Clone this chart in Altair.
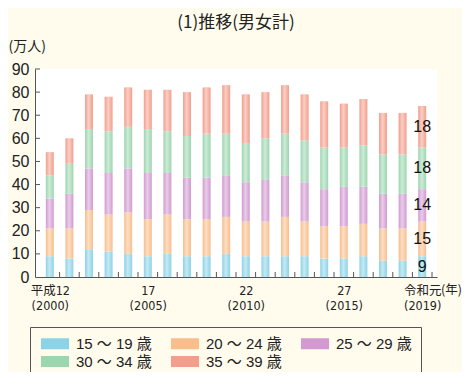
import altair as alt
import pandas as pd

years = list(range(2000, 2020))
groups = ["15 ～ 19 歳", "20 ～ 24 歳", "25 ～ 29 歳", "30 ～ 34 歳", "35 ～ 39 歳"]
a15 = [9, 8, 12, 11, 10, 9, 10, 9, 9, 10, 9, 9, 9, 9, 8, 8, 9, 7, 7, 9]
a20 = [12, 13, 17, 16, 18, 16, 17, 16, 16, 16, 15, 15, 17, 15, 14, 14, 14, 14, 14, 15]
a25 = [13, 15, 18, 18, 19, 20, 18, 18, 18, 18, 17, 18, 18, 17, 16, 17, 16, 15, 15, 14]
a30 = [10, 13, 17, 18, 18, 19, 18, 18, 19, 18, 17, 18, 18, 18, 18, 17, 18, 17, 17, 18]
a35 = [10, 11, 15, 15, 17, 17, 18, 19, 20, 21, 21, 20, 21, 20, 20, 19, 20, 18, 18, 18]
colors = ["#8CD3E6", "#F8BE8C", "#D29AD1", "#9CD6AF", "#F39E8C"]

xlab_years = [2000, 2005, 2010, 2015, 2019]
xlab_top = ["平成12", "17", "22", "27", "令和元"]
xlab_bot = ["(2000)", "(2005)", "(2010)", "(2015)", "(2019)"]
yticks = [0, 10, 20, 30, 40, 50, 60, 70, 80, 90]

series = [a15, a20, a25, a30, a35]
rows = []
totals = []
for i, y in enumerate(years):
    s = 0
    for g, vals in zip(groups, series):
        v = vals[i]
        rows.append({"year": y, "group": g, "order": groups.index(g), "start": s, "end": s + v,
                     "mid": s + v / 2, "value": v})
        s += v
    totals.append({"year": y, "zero": 0, "total": s})
df = pd.DataFrame(rows)
tot = pd.DataFrame(totals)
last = df[df["year"] == years[-1]]
xt = pd.DataFrame({"pos": [y + 0.5 for y in years]})
yt = pd.DataFrame({"v": yticks[1:]})

expr = "''"
for yv, t, b in reversed(list(zip(xlab_years, xlab_top, xlab_bot))):
    expr = f"datum.value == {yv} ? ['{t}', '{b}'] : ({expr})"

narrow = "Liberation Sans Narrow, DejaVu Sans Condensed, Noto Sans CJK JP"
sans = "Liberation Sans, Noto Sans CJK JP"
cjk = "Noto Sans CJK JP"

xscale = alt.Scale(domain=[1999.5, 2019.5], nice=False, zero=False)
yscale = alt.Scale(domain=[0, 90], nice=False)
xaxis = alt.Axis(values=xlab_years, labelExpr=expr, ticks=False, grid=False,
                 title=None, labelFont=narrow, labelFontSize=12.5, labelLineHeight=15,
                 labelPadding=7, labelColor="#222", domainColor="#555",
                 labelFlush=False, labelOverlap=False)
yaxis = alt.Axis(values=yticks, ticks=False, grid=False, title="(万人)",
                 titleAngle=0, titleAlign="left", titleBaseline="middle",
                 titleX=-27, titleY=-23, titleFont=cjk, titleFontSize=14,
                 titleFontWeight="normal", titleColor="#222",
                 labelFont=sans, labelFontSize=16, labelPadding=6,
                 labelOverlap=False, labelFlush=False,
                 labelColor="#222", domainColor="#555")

bars = alt.Chart(df).mark_bar(size=8).encode(
    x=alt.X("year:Q", scale=xscale, axis=xaxis),
    y=alt.Y("start:Q", scale=yscale, axis=yaxis),
    y2="end:Q",
    color=alt.Color("group:N", scale=alt.Scale(domain=groups, range=colors),
                    legend=alt.Legend(title=None, orient="none", legendX=-5, legendY=258,
                                      direction="horizontal", columns=3,
                                      symbolType="M-1,-1L4.1,-1L4.1,1L-1,1Z", symbolSize=121,
                                      symbolStrokeWidth=0, symbolOpacity=1,
                                      labelFont=sans, labelFontSize=15, labelColor="#222",
                                      labelOffset=22, columnPadding=17, rowPadding=2,
                                      padding=9, strokeColor="#555", labelLimit=200)),
    order="order:Q",
)

grad = alt.LinearGradient(
    gradient="linear", x1=0, x2=1, y1=0, y2=0,
    stops=[alt.GradientStop(color="rgba(255,255,255,0)", offset=0),
           alt.GradientStop(color="rgba(255,255,255,0.5)", offset=0.45),
           alt.GradientStop(color="rgba(255,255,255,0)", offset=1)])
shine = alt.Chart(tot).mark_bar(size=8, fill=grad).encode(
    x=alt.X("year:Q", scale=xscale, axis=xaxis),
    y=alt.Y("zero:Q", scale=yscale, axis=yaxis), y2="total:Q")

xticks = alt.Chart(xt).mark_rule(color="#555", strokeWidth=1).encode(
    x=alt.X("pos:Q", scale=xscale, axis=xaxis), y=alt.value(208), y2=alt.value(203))
yticks_l = alt.Chart(yt).mark_rule(color="#555", strokeWidth=1).encode(
    y=alt.Y("v:Q", scale=yscale, axis=yaxis), x=alt.value(0), x2=alt.value(5))

labels = alt.Chart(last).mark_text(font=sans, fontSize=16, color="#111", baseline="middle").encode(
    x=alt.X("year:Q", scale=xscale, axis=xaxis),
    y=alt.Y("mid:Q", scale=yscale, axis=yaxis), text="value:Q")

unit = alt.Chart(pd.DataFrame({"t": ["(年)"]})).mark_text(
    font=cjk, fontSize=12.5, color="#222", align="left", baseline="middle").encode(
    text="t:N", x=alt.value(406), y=alt.value(221))

chart = alt.layer(bars, shine, xticks, yticks_l, labels, unit).properties(
    width=402, height=208,
    padding={"left": 27, "top": 61, "right": 25, "bottom": 95},
    autosize=alt.AutoSizeParams(type="none"),
    background="#FFFCEE",
    title=alt.TitleParams("(1)推移(男女計)", font=cjk, fontSize=17, fontWeight="normal",
                          color="#222", anchor="middle", offset=7),
).configure_view(fill="white", strokeWidth=0)

chart.save("out.html", embed_options={"renderer": "svg", "actions": False})
